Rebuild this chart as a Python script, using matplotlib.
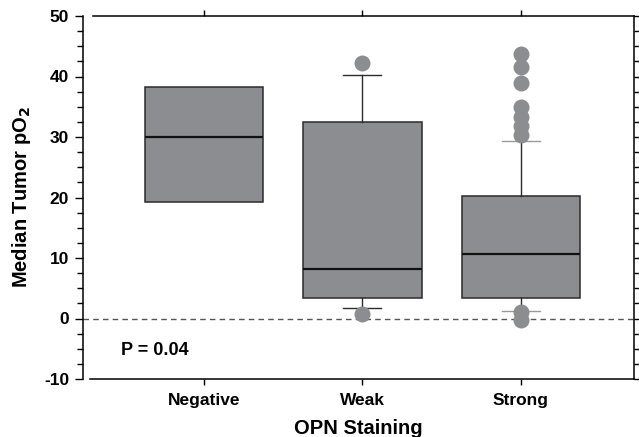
import matplotlib
matplotlib.use("Agg")
import matplotlib.pyplot as plt
from matplotlib.ticker import MultipleLocator

plt.rcParams['font.family'] = ['Liberation Sans', 'DejaVu Sans']
plt.rcParams['font.weight'] = 'bold'
plt.rcParams['axes.unicode_minus'] = False

categories = ['Negative', 'Weak', 'Strong']
q1 = [19.3, 3.4, 3.4]
medians = [30.0, 8.1, 10.6]
q3 = [38.2, 32.4, 20.3]
whisker_low = [19.3, 1.8, 1.3]
whisker_high = [38.2, 40.2, 29.3]
outliers = [
    [],
    [42.2, 0.7],
    [43.8, 41.6, 38.9, 34.9, 33.3, 31.9, 30.4, 1.0, -0.2],
]
p_text = 'P = 0.04'

box_color = '#8c8d90'
edge_color = '#2b2b2b'

fig = plt.figure(figsize=(6.39, 4.37), dpi=100)
ax = fig.add_axes([83/639, 1 - 379/437, (634 - 83)/639, (379 - 16)/437])

stats = []
for i, c in enumerate(categories):
    stats.append(dict(label=c, q1=q1[i], med=medians[i], q3=q3[i],
                      whislo=whisker_low[i], whishi=whisker_high[i],
                      fliers=outliers[i]))

positions = list(range(len(categories)))
bp = ax.bxp(stats, positions=positions, widths=0.75, patch_artist=True,
            showfliers=False,
            boxprops=dict(facecolor=box_color, edgecolor=edge_color, linewidth=1.1),
            medianprops=dict(color='#111111', linewidth=1.6),
            whiskerprops=dict(color=edge_color, linewidth=1.0),
            capprops=dict(color=edge_color, linewidth=1.0),
            capwidths=0.24, zorder=3)

# Negative group has no whiskers/caps
for k in (0, 1):
    bp['whiskers'][k].set_visible(False)
    bp['caps'][k].set_visible(False)
# Strong caps lighter
for k in (4, 5):
    bp['caps'][k].set_color('#9a9a9a')

for i, pts in enumerate(outliers):
    if pts:
        ax.plot([positions[i]] * len(pts), pts, 'o', color=box_color,
                markersize=11.5, markeredgewidth=0, zorder=4)

ax.axhline(0, color='#555555', linewidth=1.0, linestyle=(0, (4, 3)), zorder=2)

ax.set_xlim(-0.763, 2.713)
ax.set_ylim(-10, 50)
ax.set_xticks(positions)
ax.set_xticklabels(categories, fontsize=12.5, fontweight='bold')
ax.yaxis.set_major_locator(MultipleLocator(10))
ax.yaxis.set_minor_locator(MultipleLocator(2.5))
for lab in ax.get_yticklabels():
    lab.set_fontweight('bold')
ax.tick_params(axis='y', which='major', length=6, width=1, labelsize=12.5, pad=4)
ax.tick_params(axis='y', which='minor', length=4, width=1)
ax.tick_params(axis='x', which='major', length=4, width=1, top=True, pad=6)

# right spine ticks
ax2 = ax.twinx()
ax2.set_ylim(-10, 50)
ax2.yaxis.set_major_locator(MultipleLocator(2.5))
ax2.tick_params(axis='y', which='major', length=5, width=1, labelright=False)
for s in ('left', 'top', 'bottom'):
    ax2.spines[s].set_visible(False)

for s in ax.spines.values():
    s.set_linewidth(1.1)
ax.spines['bottom'].set_bounds(-0.72, 2.713)
ax.spines['top'].set_bounds(-0.70, 2.713)
ax.spines['right'].set_visible(False)
ax2.spines['right'].set_linewidth(1.1)

ax.text(-0.525, -5.3, p_text, fontsize=13, fontweight='bold', va='center', ha='left')

ax.set_xlabel('OPN Staining', fontsize=14.5, fontweight='bold', labelpad=8)
ax.set_ylabel('Median Tumor pO$_\\mathbf{2}$', fontsize=14.5, fontweight='bold', labelpad=8)

fig.savefig('out.png', dpi=100)
